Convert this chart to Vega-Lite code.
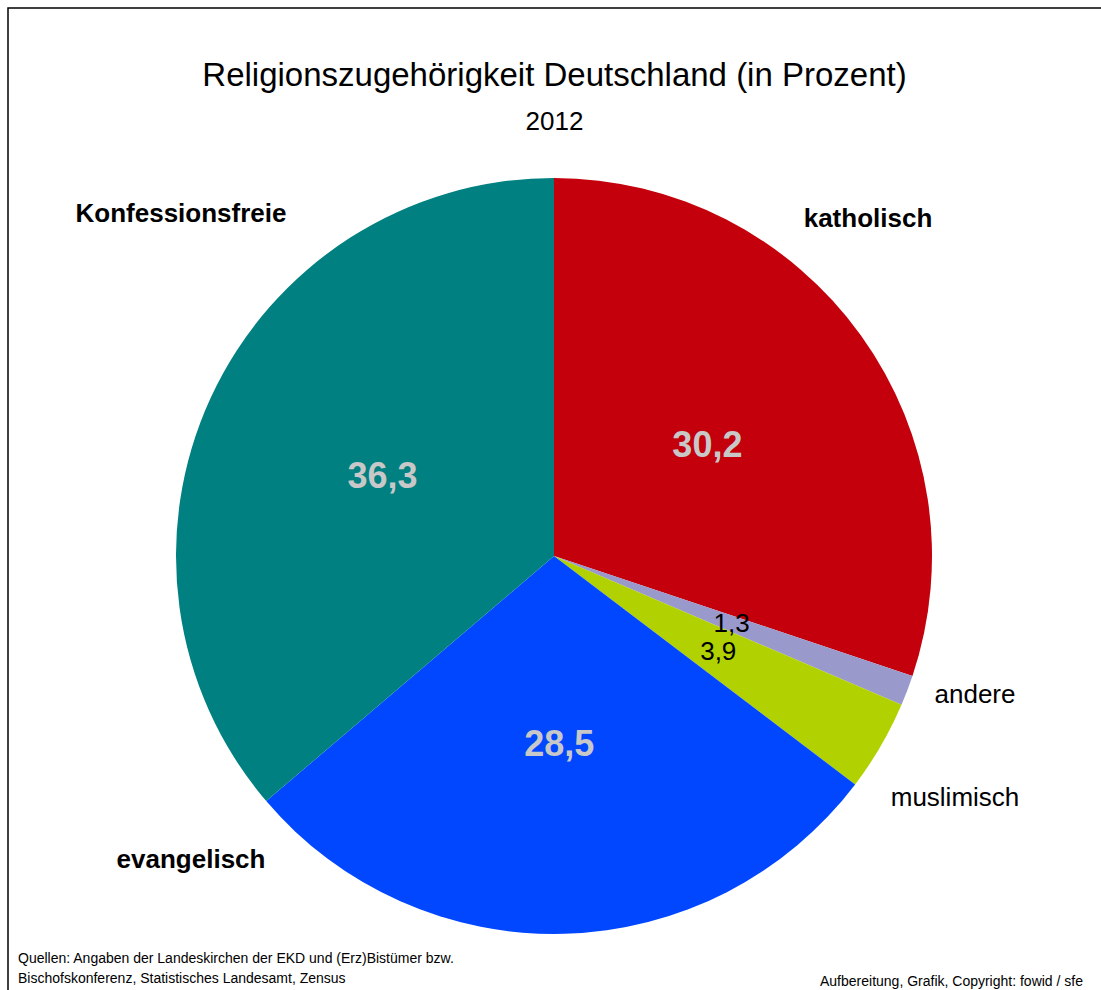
{
  "$schema": "https://vega.github.io/schema/vega-lite/v6.json",
  "width": 1093,
  "height": 982,
  "autosize": {"type": "none"},
  "padding": {"left": 8, "top": 8, "right": 0, "bottom": 0},
  "background": "white",
  "config": {
    "view": {"stroke": null},
    "font": "Liberation Sans",
    "locale": {"number": {"decimal": ",", "thousands": ".", "grouping": [3], "currency": ["", " €"]}}
  },
  "title": {
    "text": "Religionszugehörigkeit Deutschland (in Prozent)",
    "subtitle": "2012",
    "anchor": "middle",
    "frame": "group",
    "fontSize": 33,
    "fontWeight": "normal",
    "color": "black",
    "subtitleFontSize": 26,
    "subtitleColor": "black",
    "subtitlePadding": 16,
    "offset": -128
  },
  "data": {
    "values": [
      {"cat": "katholisch", "value": 30.2, "ord": 1},
      {"cat": "andere", "value": 1.3, "ord": 2},
      {"cat": "muslimisch", "value": 3.9, "ord": 3},
      {"cat": "evangelisch", "value": 28.5, "ord": 4},
      {"cat": "Konfessionsfreie", "value": 36.3, "ord": 5}
    ]
  },
  "layer": [
    {
      "data": {"values": [{"frame": "border"}]},
      "mark": {"type": "rect", "x": 0, "y": 0, "x2": 1110, "y2": 1000, "fill": null, "stroke": "black", "strokeWidth": 1.5},
      "encoding": {}
    },
    {
      "mark": {"type": "arc", "outerRadius": 378, "x": 546, "y": 548},
      "encoding": {
        "theta": {"field": "value", "type": "quantitative", "stack": true},
        "order": {"field": "ord", "type": "quantitative"},
        "color": {
          "field": "cat",
          "type": "nominal",
          "scale": {
            "domain": ["katholisch", "andere", "muslimisch", "evangelisch", "Konfessionsfreie"],
            "range": ["#C3000B", "#9999CC", "#B1D100", "#0047FF", "#008080"]
          },
          "legend": null
        }
      }
    },
    {
      "mark": {"type": "text", "radius": 189, "x": 546, "y": 548, "fontSize": 36, "fontWeight": "bold", "color": "#C8C8C8", "baseline": "middle", "align": "center"},
      "encoding": {
        "theta": {"field": "value", "type": "quantitative", "stack": true},
        "order": {"field": "ord", "type": "quantitative"},
        "text": {"condition": {"test": "datum.value > 10", "field": "value", "type": "quantitative", "format": ".1f"}, "value": ""}
      }
    },
    {
      "mark": {"type": "text", "radius": 190, "x": 546, "y": 548, "fontSize": 26, "fontWeight": "normal", "color": "black", "baseline": "middle", "align": "center"},
      "encoding": {
        "theta": {"field": "value", "type": "quantitative", "stack": true},
        "order": {"field": "ord", "type": "quantitative"},
        "text": {"condition": {"test": "datum.value <= 10", "field": "value", "type": "quantitative", "format": ".1f"}, "value": ""}
      }
    },
    {
      "mark": {
        "type": "text", "fontSize": 26, "fontWeight": "bold", "color": "black", "align": "center", "baseline": "alphabetic",
        "x": {"expr": "datum.cat === 'katholisch' ? 860 : datum.cat === 'Konfessionsfreie' ? 173 : 183"},
        "y": {"expr": "datum.cat === 'katholisch' ? 219 : datum.cat === 'Konfessionsfreie' ? 214 : 860"}
      },
      "encoding": {
        "text": {"condition": {"test": "datum.value > 10", "field": "cat", "type": "nominal"}, "value": ""}
      }
    },
    {
      "mark": {
        "type": "text", "fontSize": 26, "fontWeight": "normal", "color": "black", "align": "center", "baseline": "alphabetic",
        "x": {"expr": "datum.cat === 'andere' ? 967 : 947"},
        "y": {"expr": "datum.cat === 'andere' ? 695 : 798"}
      },
      "encoding": {
        "text": {"condition": {"test": "datum.value <= 10", "field": "cat", "type": "nominal"}, "value": ""}
      }
    },
    {
      "data": {"values": [{"note": "Quellen"}]},
      "mark": {
        "type": "text", "fontSize": 14, "color": "black", "align": "left", "baseline": "alphabetic",
        "x": 10, "y": 955, "lineHeight": 20,
        "text": ["Quellen: Angaben der Landeskirchen der EKD und (Erz)Bistümer  bzw.", "Bischofskonferenz, Statistisches Landesamt, Zensus"]
      },
      "encoding": {}
    },
    {
      "data": {"values": [{"note": "Aufbereitung"}]},
      "mark": {
        "type": "text", "fontSize": 14, "color": "black", "align": "right", "baseline": "alphabetic",
        "x": 1075, "y": 978,
        "text": "Aufbereitung, Grafik, Copyright: fowid / sfe"
      },
      "encoding": {}
    }
  ]
}
